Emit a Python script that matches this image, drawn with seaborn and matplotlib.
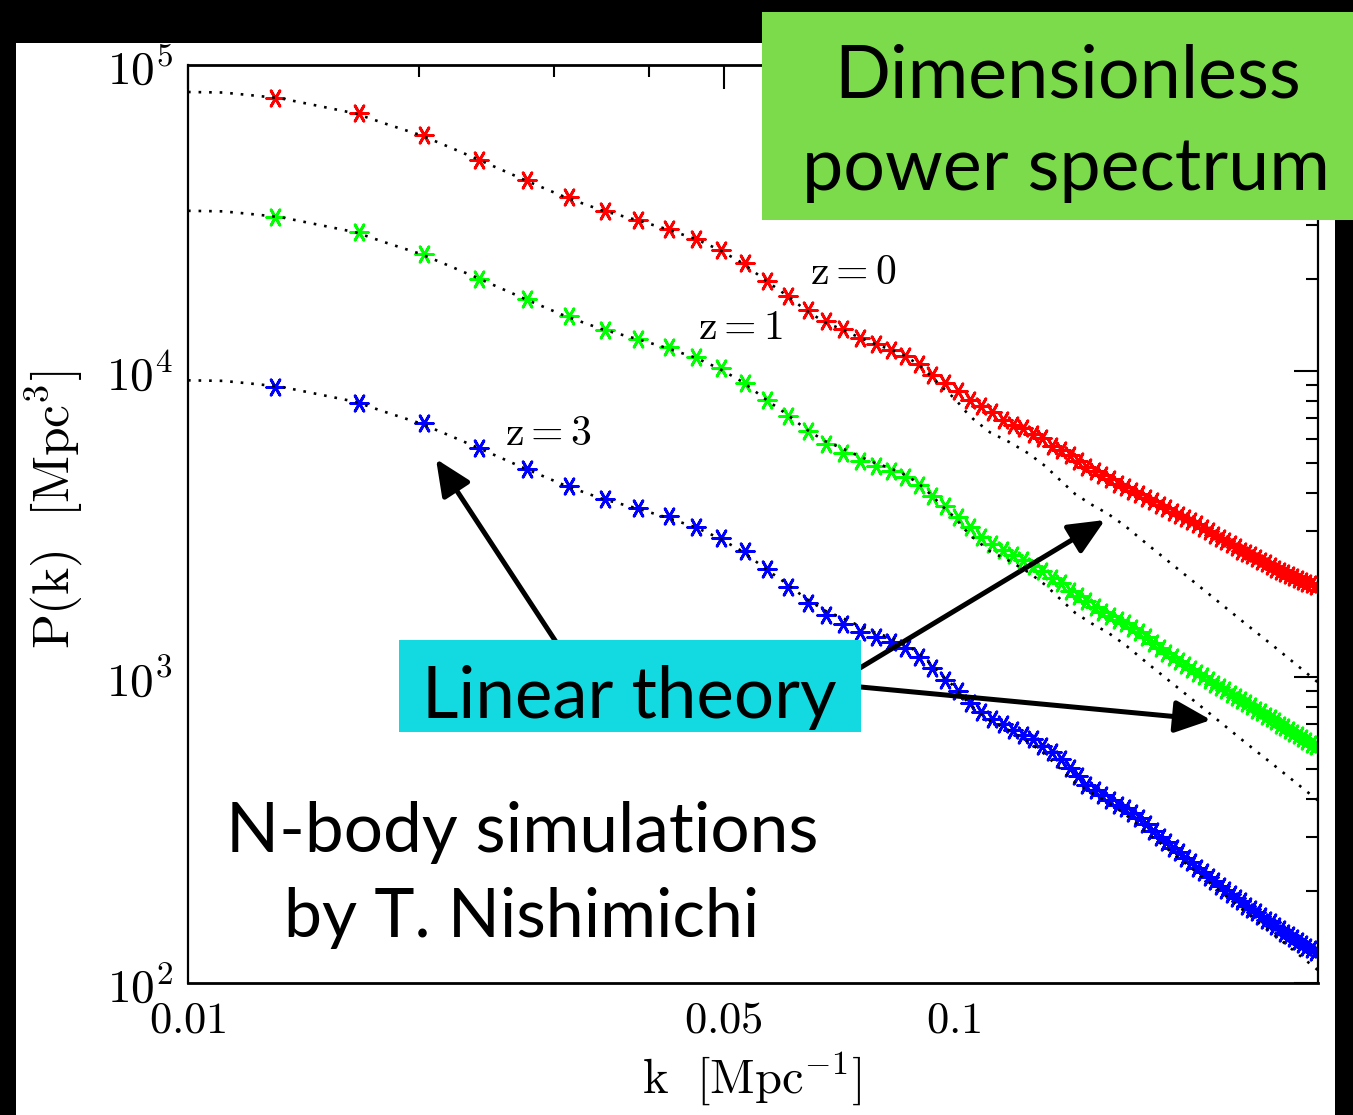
import numpy as np
import matplotlib
matplotlib.use("Agg")
import matplotlib.pyplot as plt
import seaborn as sns
from matplotlib.patches import Rectangle, FancyArrowPatch, ArrowStyle
from matplotlib.ticker import FixedLocator, FixedFormatter, NullFormatter, LogLocator

# ---------------- data ----------------
k_data = [0.0130, 0.0167, 0.0203, 0.0240, 0.0277, 0.0314, 0.0350, 0.0387, 0.0424, 0.0460,
          0.0497, 0.0534, 0.0570, 0.0607, 0.0644, 0.0681, 0.0717, 0.0754, 0.0791, 0.0827,
          0.0864, 0.0901, 0.0937, 0.0974, 0.1011, 0.1048, 0.1084, 0.1121, 0.1158, 0.1194,
          0.1231, 0.1268, 0.1304, 0.1341, 0.1378, 0.1415, 0.1451, 0.1488, 0.1525, 0.1561,
          0.1598, 0.1635, 0.1671, 0.1708, 0.1745, 0.1782, 0.1818, 0.1855, 0.1892, 0.1928,
          0.1965, 0.2002, 0.2038, 0.2075, 0.2112, 0.2149, 0.2185, 0.2222, 0.2259, 0.2295,
          0.2332, 0.2369, 0.2405, 0.2442, 0.2479, 0.2516, 0.2552, 0.2589, 0.2626, 0.2662,
          0.2699, 0.2736, 0.2772, 0.2809, 0.2846, 0.2883, 0.2919, 0.2956]

p_z0 = [77850, 69550, 59050, 48940, 42100, 36950, 33410, 31160, 29050, 26940,
        24860, 22490, 19730, 17590, 15820, 14560, 13670, 12800, 12250, 11750,
        11210, 10540, 9740, 9150, 8610, 8040, 7660, 7330, 6940, 6640,
        6500, 6226, 6018, 5707, 5505, 5314, 5080, 4856, 4695, 4588,
        4451, 4287, 4166, 4052, 3954, 3859, 3760, 3662, 3567, 3474,
        3383, 3308, 3246, 3162, 3080, 3000, 2922, 2846, 2782, 2720,
        2650, 2590, 2542, 2495, 2448, 2402, 2357, 2313, 2262, 2219,
        2186, 2154, 2122, 2090, 2058, 2028, 2006, 1983]

p_z1 = [31780, 28400, 24120, 19980, 17190, 15070, 13660, 12770, 12010, 11140,
        10200, 9160, 8040, 7130, 6368, 5772, 5383, 5092, 4903, 4723,
        4514, 4231, 3904, 3608, 3341, 3099, 2867, 2720, 2600, 2504,
        2412, 2305, 2228, 2114, 2021, 1910, 1839, 1765, 1693, 1637,
        1582, 1541, 1501, 1451, 1403, 1351, 1291, 1244, 1198, 1163,
        1128, 1094, 1062, 1034, 1008, 978, 952, 927, 907, 883,
        860, 841, 822, 801, 783, 766, 748, 732, 716, 699,
        684, 671, 656, 644, 630, 618, 606, 595]

p_z3 = [8887, 7877, 6746, 5590, 4773, 4208, 3816, 3559, 3346, 3103,
        2852, 2581, 2254, 1973, 1749, 1594, 1487, 1406, 1348, 1305,
        1241, 1165, 1068, 981, 902, 824, 770, 729, 700, 669,
        647, 626, 597, 570, 540, 506, 473, 444, 426, 410,
        396, 383, 372, 359, 345, 330, 315, 301, 289, 277,
        267, 257, 248, 238, 230, 222, 215, 208, 201, 195,
        190, 185, 179, 175, 170, 166, 161, 158, 154, 150,
        146, 143, 140, 137, 134, 131, 129, 126]

k_lin = [0.0100, 0.0111, 0.0120, 0.0132, 0.0148, 0.0165, 0.0182, 0.0201, 0.0220, 0.0240,
         0.0275, 0.0311, 0.0348, 0.0385, 0.0422, 0.0461, 0.0494, 0.0530, 0.0568, 0.0606,
         0.0640, 0.0677, 0.0713, 0.0751, 0.0788, 0.0825, 0.0858, 0.0897, 0.0933, 0.0967,
         0.1003, 0.1034, 0.1059, 0.1114, 0.1180, 0.1250, 0.1315, 0.1375, 0.1439, 0.1514,
         0.1589, 0.1672, 0.1803, 0.1985, 0.2178, 0.2399, 0.2641, 0.3000]

lin_z0 = [81620, 81300, 79800, 77850, 73500, 69550, 64000, 59050, 53760, 48940,
          42100, 36950, 33410, 31160, 29050, 26940, 24860, 22490, 19730, 17590,
          15820, 14460, 13690, 12890, 12250, 11770, 11280, 10540, 9630, 8800,
          8100, 7400, 6970, 6300, 5860, 5380, 4890, 4400, 3960, 3650,
          3410, 3115, 2666, 2195, 1819, 1495, 1234, 950]

lin_z1 = [33380, 33250, 32640, 31840, 30060, 28450, 26180, 24150, 21990, 20020,
          17220, 15110, 13660, 12740, 11880, 11020, 10170, 9198, 8070, 7194,
          6470, 5914, 5599, 5272, 5010, 4814, 4614, 4311, 3939, 3599,
          3313, 3027, 2851, 2577, 2397, 2200, 2000, 1800, 1620, 1493,
          1395, 1274, 1090, 898, 744, 611, 505, 391]

lin_z3 = [9321, 9285, 9113, 8890, 8394, 7943, 7309, 6744, 6139, 5589,
          4808, 4220, 3815, 3559, 3318, 3077, 2839, 2568, 2253, 2009,
          1807, 1651, 1563, 1472, 1399, 1344, 1288, 1204, 1100, 1005,
          925, 845, 796, 719, 669, 614, 558, 502, 452, 417,
          389, 356, 304, 251, 208, 171, 141, 109]

series_colors = ["#ff0000", "#00ff00", "#0000ff"]
z_labels = [r"$\mathrm{z=0}$", r"$\mathrm{z=1}$", r"$\mathrm{z=3}$"]
x_major = [0.01, 0.05, 0.1]
x_major_labels = [r"$\mathrm{0.01}$", r"$\mathrm{0.05}$", r"$\mathrm{0.1}$"]
x_minor = [0.02, 0.03, 0.04, 0.06, 0.07, 0.08, 0.09, 0.2, 0.3]
y_major = [1e2, 1e3, 1e4, 1e5]
y_major_labels = [r"$10^{2}$", r"$10^{3}$", r"$10^{4}$", r"$10^{5}$"]

# ---------------- figure ----------------
W, H = 1353, 1115
sns.set_theme(style="white")
plt.rcParams["font.family"] = ["Lato", "DejaVu Sans"]
plt.rcParams["mathtext.fontset"] = "cm"


def fx(px):
    return px / W


def fy(py):
    return 1 - py / H


fig = plt.figure(figsize=(W / 100, H / 100), dpi=100, facecolor="black")
fig.add_artist(Rectangle((fx(16), 0), fx(1335) - fx(16), fy(43),
                         transform=fig.transFigure, facecolor="white",
                         edgecolor="none", zorder=-10))

ax = fig.add_axes([fx(188), fy(983), fx(1318) - fx(188), fy(65) - fy(983)])
ax.set_facecolor("white")
ax.set_xscale("log")
ax.set_yscale("log")

for P, c in zip([p_z0, p_z1, p_z3], series_colors):
    sns.scatterplot(x=k_data, y=P, ax=ax, marker=(6, 2, 30), s=160,
                    color=c, linewidth=2.0, zorder=2, legend=False)

for L in [lin_z0, lin_z1, lin_z3]:
    sns.lineplot(x=k_lin, y=L, ax=ax, color="black", linestyle=(0, (1, 3)),
                 linewidth=1.9, zorder=3, estimator=None, sort=False, legend=False)

ax.set_xlim(0.01, 0.2985)
ax.set_ylim(100, 1e5)

ax.xaxis.set_major_locator(FixedLocator(x_major))
ax.xaxis.set_major_formatter(FixedFormatter(x_major_labels))
ax.xaxis.set_minor_locator(FixedLocator(x_minor))
ax.xaxis.set_minor_formatter(NullFormatter())
ax.yaxis.set_major_locator(FixedLocator(y_major))
ax.yaxis.set_major_formatter(FixedFormatter(y_major_labels))
ax.yaxis.set_minor_locator(LogLocator(base=10, subs=np.arange(2, 10)))
ax.yaxis.set_minor_formatter(NullFormatter())

ax.tick_params(which="both", direction="in", top=True, right=True,
               color="black", labelcolor="black")
ax.tick_params(which="major", length=17, width=1.5)
ax.tick_params(which="minor", length=8.5, width=1.5)
ax.tick_params(axis="x", which="major", labelsize=32, pad=12)
ax.tick_params(axis="y", which="major", labelsize=34, pad=11)

for name, sp in ax.spines.items():
    sp.set_color("black")
    sp.set_linewidth(2.0 if name in ("top", "bottom") else 1.6)

ax.set_xlabel(r"$\mathrm{k\ \ [Mpc^{-1}]}$", fontsize=35, color="black")
ax.set_ylabel(r"$\mathrm{P(k)\ \ [Mpc^{3}]}$", fontsize=37, color="black")
ax.xaxis.set_label_coords(0.499, -0.072)
ax.yaxis.set_label_coords(-0.091, 0.515)

# z labels
for lab, (px, py) in zip(z_labels, [(853, 272), (740, 327), (548, 433)]):
    fig.text(fx(px), fy(py), lab, fontsize=30, ha="center", va="center",
             color="black", zorder=6)

# arrows
astyle = ArrowStyle("-|>", head_length=1.0, head_width=0.45)
for (x0, y0), (x1, y1) in [((560, 648), (436, 459)),
                           ((850, 674), (1105, 520)),
                           ((850, 686), (1211, 720))]:
    fig.add_artist(FancyArrowPatch((fx(x0), fy(y0)), (fx(x1), fy(y1)),
                                   transform=fig.transFigure, arrowstyle=astyle,
                                   mutation_scale=22, linewidth=3.6,
                                   color="black", shrinkA=0, shrinkB=0, zorder=7))

# green title box
fig.add_artist(Rectangle((fx(762), fy(220)), fx(1353) - fx(762), fy(12) - fy(220),
                         transform=fig.transFigure, facecolor="#7bdb4b",
                         edgecolor="none", zorder=8))
fig.text(fx(1068), fy(98), "Dimensionless", fontsize=53, ha="center",
         va="baseline", color="black", zorder=9)
fig.text(fx(1066), fy(190), "power spectrum", fontsize=53, ha="center",
         va="baseline", color="black", zorder=9)

# cyan box
fig.add_artist(Rectangle((fx(399), fy(732)), fx(861) - fx(399), fy(640) - fy(732),
                         transform=fig.transFigure, facecolor="#13d9e0",
                         edgecolor="none", zorder=8))
fig.text(fx(629), fy(718), "Linear theory", fontsize=51, ha="center",
         va="baseline", color="black", zorder=9)

# credit text
fig.text(fx(522), fy(852), "N-body simulations", fontsize=50, ha="center",
         va="baseline", color="black", zorder=9)
fig.text(fx(522), fy(937), "by T. Nishimichi", fontsize=49, ha="center",
         va="baseline", color="black", zorder=9)

fig.savefig("out.png", dpi=100, facecolor="black")
